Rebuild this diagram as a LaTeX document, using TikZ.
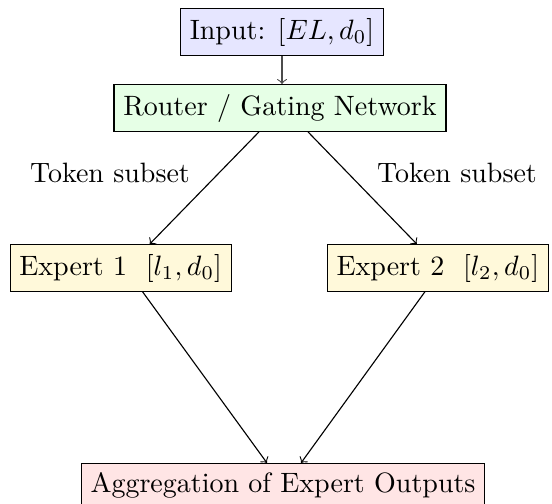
\documentclass[tikz,border=0pt]{standalone}
\usetikzlibrary{calc}
\definecolor{inputfill}{RGB}{230,230,255}
\definecolor{routerfill}{RGB}{230,255,230}
\definecolor{expertfill}{RGB}{255,249,218}
\definecolor{aggfill}{RGB}{255,229,229}
\begin{document}
\begin{tikzpicture}[x=0.35714pt, y=-0.35714pt,
  box/.style={draw=black, line width=0.4pt, inner sep=3.33pt},
  flow/.style={->, line width=0.4pt, black},
  lbl/.style={inner sep=0pt}]
\useasboundingbox (0,0) rectangle (552,504);

% boxes
\node[box, fill=inputfill] (input) at (282,32) {Input: $[EL, d_0]$};
\node[box, fill=routerfill] (router) at (280,108) {Router / Gating Network};
\node[box, fill=expertfill, anchor=west] (e1) at (9.5,268) {Expert 1\ \ $[l_1, d_0]$};
\node[box, fill=expertfill, anchor=east] (e2) at (549,268) {Expert 2\ \ $[l_2, d_0]$};
\node[box, fill=aggfill, anchor=north] (agg) at (283,463) {Aggregation of Expert Outputs};

% labels beside the routing edges
\node[lbl] (tl) at (110,173) {Token subset};
\node[lbl] (tr) at (457,173) {Token subset};

% connectors
\draw[flow, black!70] (input.south) -- (input.south |- router.north);
\draw[flow] ($(router.south)+(-21,0)$) -- ($(e1.north)+(29,0)$);
\draw[flow] ($(router.south)+(28,0)$) -- ($(e2.north)+(-21,0)$);
\draw[flow] ($(e1.south)+(22,0)$) -- ($(agg.north)+(-16,0)$);
\draw[flow] ($(e2.south)+(-13,0)$) -- ($(agg.north)+(18,0)$);
\end{tikzpicture}
\end{document}
